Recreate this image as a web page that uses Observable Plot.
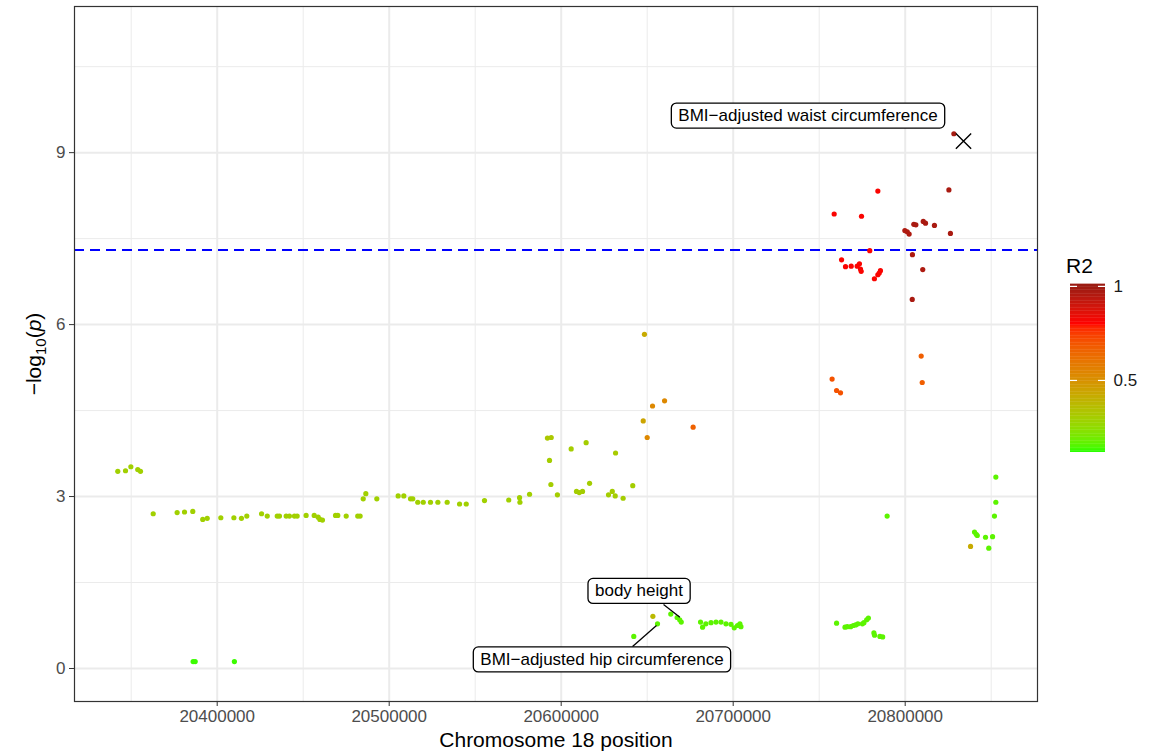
<!DOCTYPE html>
<html><head><meta charset="utf-8">
<script src="https://cdn.jsdelivr.net/npm/d3@7"></script>
<script src="https://cdn.jsdelivr.net/npm/@observablehq/plot@0.6"></script>
<style>
body{margin:0;background:#fff;}
#wrap{position:relative;width:1160px;height:754px;font-family:"Liberation Sans",Arial,sans-serif;}
#leg{position:absolute;left:1040px;top:250px;}
#legtitle{position:absolute;left:1066px;top:254px;font-size:21px;color:#000;}
</style></head><body><div id="wrap"><div id="legtitle">R2</div><div id="leg"></div></div>
<script>
// ---- data ----
const positions = [
20342200,20346700,20349800,20353800,20355400,20362800,20376700,20381000,20385800,20391600,
20394200,20402100,20409700,20414100,20417200,20425800,20429100,20434900,20436200,20440100,
20442000,20444900,20446500,20451700,20456400,20458700,20459700,20461200,20468800,20470100,
20475000,20481700,20483100,20484900,20486400,20492800,20505200,20508500,20512400,20513700,
20516600,20519800,20524000,20528300,20533700,20540900,20544800,20555400,20569500,20575800,
20576000,20581600,20593200,20594000,20597800,20605800,20614500,20608900,20610500,20612400,
20616500,20631600,20627500,20629700,20631400,20636000,20641600,20592000,20594200,
20648400,20653100,20660100,20647700,20650000,20676700,
20386000,20387200,20410000,20653300,20656000,20642200,20663700,20667400,20668900,20669800,
20681000,20682200,20684100,20687100,20690000,20692900,20695800,20698700,20700600,20702500,20703900,20704500,
20760100,20765000,20766300,20768300,20769800,20771200,20772500,20775100,20776000,20777600,20778600,
20781800,20782200,20785300,20786900,
20789500,20852700,20852700,20851900,20840300,20841900,20841300,20846700,20850800,20848600,20838000,
20757500,20760100,20762400,20809300,20809900,
20784100,20758700,20774600,20779400,20763000,20765300,20768600,20772100,20773400,20774000,20774400,
20782100,20784100,20785600,20784900,
20828300,20825400,20799800,20801200,20802300,20805000,20806200,20810500,20811800,20817000,20826300,
20804200,20810200,20804100
];
const logP = [
3.44,3.45,3.52,3.47,3.44,2.70,2.72,2.73,2.74,2.60,
2.62,2.63,2.63,2.62,2.66,2.70,2.66,2.66,2.66,2.66,
2.66,2.66,2.66,2.67,2.67,2.64,2.60,2.59,2.67,2.67,
2.66,2.66,2.66,2.96,3.05,2.96,3.01,3.01,2.96,2.96,
2.90,2.90,2.90,2.90,2.90,2.87,2.87,2.93,2.94,2.98,
2.90,3.04,3.63,3.21,3.03,3.83,3.94,3.09,3.07,3.09,
3.23,3.76,3.03,3.09,3.01,2.97,3.19,4.02,4.03,
5.83,4.58,4.67,4.32,4.03,4.21,
0.12,0.12,0.12,0.91,0.78,0.56,0.95,0.89,0.85,0.81,
0.81,0.72,0.78,0.80,0.81,0.81,0.78,0.77,0.71,0.75,0.78,0.73,
0.79,0.72,0.73,0.73,0.75,0.76,0.78,0.78,0.80,0.85,0.88,
0.62,0.58,0.56,0.55,
2.66,3.34,2.90,2.66,2.38,2.32,2.34,2.29,2.30,2.10,2.13,
5.05,4.85,4.81,5.45,4.99,
8.33,7.93,7.89,7.29,7.13,7.01,7.02,7.02,7.06,6.97,6.93,
6.80,6.87,6.94,6.90,
9.33,8.35,7.64,7.62,7.58,7.75,7.74,7.80,7.77,7.73,7.59,
7.22,6.96,6.44
];
const r2 = [
0.29,0.29,0.29,0.29,0.29,0.29,0.29,0.29,0.29,0.29,
0.29,0.29,0.29,0.29,0.29,0.29,0.29,0.29,0.29,0.29,
0.29,0.29,0.29,0.29,0.29,0.29,0.29,0.29,0.29,0.29,
0.29,0.29,0.29,0.29,0.29,0.29,0.29,0.29,0.29,0.29,
0.29,0.29,0.29,0.29,0.29,0.29,0.29,0.29,0.29,0.29,
0.29,0.29,0.30,0.30,0.30,0.30,0.30,0.30,0.30,0.30,
0.30,0.31,0.30,0.30,0.30,0.30,0.30,0.32,0.32,
0.42,0.53,0.53,0.44,0.53,0.66,
0.13,0.13,0.13,0.37,0.16,0.16,0.16,0.16,0.16,0.16,
0.16,0.16,0.16,0.16,0.16,0.16,0.16,0.16,0.16,0.16,0.16,0.16,
0.16,0.16,0.16,0.16,0.16,0.16,0.16,0.16,0.16,0.16,0.16,
0.16,0.16,0.16,0.16,
0.16,0.16,0.16,0.16,0.16,0.16,0.16,0.16,0.16,0.16,0.42,
0.70,0.70,0.70,0.67,0.67,
0.81,0.81,0.81,0.81,0.81,0.81,0.81,0.81,0.81,0.81,0.81,
0.81,0.81,0.81,0.81,
0.98,0.97,0.96,0.96,0.96,0.97,0.97,0.97,0.97,0.97,0.97,
0.96,0.96,0.97
];
const leadPos = [20833900];
const leadLogP = [9.20];
const threshold = [7.3];

const labelText = ["BMI\u2212adjusted waist circumference", "body height", "BMI\u2212adjusted hip circumference"];
const labelPos = [20743500, 20645200, 20623700];
const labelLogP = [9.646, 1.352, 0.157];
const segPos1 = [20669000, 20655400];
const segLogP1 = [0.895, 0.75];
const segPos2 = [20659500, 20641500];
const segLogP2 = [1.116, 0.384];

const xMajor = [20400000, 20500000, 20600000, 20700000, 20800000];
const xMinor = [20350000, 20450000, 20550000, 20650000, 20750000, 20850000];
const yMajor = [0, 3, 6, 9];
const yMinor = [1.5, 4.5, 7.5, 10.5];
const legendTicks = [0.5, 1];

const colorStops = [0.117, 0.5, 0.8, 1];
const colorRange = ["#22ff00", "#d89000", "#ff0000", "#9b1b12"];

// ---- build ----
const points = positions.map((p, i) => ({pos: p, logp: logP[i], r2: r2[i]}));
const labels = labelText.map((t, i) => ({text: t, pos: labelPos[i], logp: labelLogP[i]}));
const segs = segPos1.map((p, i) => ({x1: p, y1: segLogP1[i], x2: segPos2[i], y2: segLogP2[i]}));
const colorScale = {type: "linear", domain: colorStops, range: colorRange, interpolate: "lab"};
const FONT = "'Liberation Sans', Arial, sans-serif";

const chart = Plot.plot({
  width: 1160, height: 754,
  marginLeft: 74, marginRight: 123, marginTop: 6, marginBottom: 53,
  style: {fontFamily: FONT, background: "white"},
  x: {domain: [20317035, 20876919]},
  y: {domain: [-0.576, 11.55]},
  color: colorScale,
  marks: [
    Plot.ruleX(xMinor, {stroke: "#ebebeb", strokeWidth: 1}),
    Plot.ruleY(yMinor, {stroke: "#ebebeb", strokeWidth: 1}),
    Plot.ruleX(xMajor, {stroke: "#ebebeb", strokeWidth: 2}),
    Plot.ruleY(yMajor, {stroke: "#ebebeb", strokeWidth: 2}),
    Plot.ruleY(threshold, {stroke: "#0000ff", strokeWidth: 2, strokeDasharray: "10,6"}),
    Plot.dot(points, {x: "pos", y: "logp", fill: "r2", r: 2.6, stroke: null}),
    Plot.dot(leadPos.map((p, i) => ({pos: p, logp: leadLogP[i]})), {x: "pos", y: "logp", symbol: "times", r: 7, stroke: "black", strokeWidth: 1.4}),
    Plot.link(segs, {x1: "x1", y1: "y1", x2: "x2", y2: "y2", stroke: "black", strokeWidth: 1.3}),
    Plot.text(labels, {x: "pos", y: "logp", text: "text", fontSize: 17, fill: "black", textAnchor: "middle", lineAnchor: "middle"}),
    Plot.frame({stroke: "#333333", strokeWidth: 1.2}),
    Plot.axisX(xMajor, {tickFormat: d => String(d), tickSize: 5, tickPadding: 3, fontSize: 17, fill: "#4d4d4d", stroke: "#333333", label: null}),
    Plot.axisY(yMajor, {tickFormat: d => String(d), tickSize: 5, tickPadding: 4, fontSize: 17, fill: "#4d4d4d", stroke: "#333333", label: null}),
    Plot.text(["Chromosome 18 position"], {frameAnchor: "bottom", dy: 45, fontSize: 21, fill: "black"})
  ]
});
document.getElementById("wrap").prepend(chart);

// rounded label boxes
const svg = d3.select(chart.tagName.toLowerCase() === "svg" ? chart : chart.querySelector("svg"));
svg.selectAll("text").each(function() {
  if (labelText.includes(this.textContent)) {
    const b = this.getBBox();
    const r = document.createElementNS("http://www.w3.org/2000/svg", "rect");
    r.setAttribute("x", b.x - 7);
    r.setAttribute("y", b.y - 3);
    r.setAttribute("width", b.width + 14);
    r.setAttribute("height", b.height + 6);
    r.setAttribute("rx", 5);
    r.setAttribute("fill", "white");
    r.setAttribute("stroke", "black");
    r.setAttribute("stroke-width", 1.3);
    if (this.getAttribute("transform")) r.setAttribute("transform", this.getAttribute("transform"));
    this.parentNode.insertBefore(r, this);
  }
});
// y axis title with subscript and italic p
const yt = svg.append("text")
  .attr("transform", "translate(41,354) rotate(-90)")
  .attr("text-anchor", "middle")
  .attr("fill", "black")
  .style("font-size", "21px").style("font-family", FONT);
yt.append("tspan").text("\u2212log");
yt.append("tspan").attr("dy", 5).style("font-size", "15px").text("10");
yt.append("tspan").attr("dy", -5).text("(");
yt.append("tspan").style("font-style", "italic").text("p");
yt.append("tspan").text(")");

// legend colour bar
const slices = d3.range(120).map(i => {
  const a = colorStops[0] + (1.01 - colorStops[0]) * i / 120;
  const b = colorStops[0] + (1.01 - colorStops[0]) * (i + 1) / 120;
  return {y1: a, y2: b + 0.002, v: Math.min(1, (a + b) / 2)};
});
const legend = Plot.plot({
  width: 110, height: 215,
  marginLeft: 30, marginRight: 45, marginTop: 34, marginBottom: 13,
  style: {fontFamily: FONT, background: "transparent"},
  x: {domain: [0, 1], axis: null},
  y: {domain: [colorStops[0], 1.01]},
  color: colorScale,
  marks: [
    Plot.rect(slices, {x1: 0, x2: 1, y1: "y1", y2: "y2", fill: "v"}),
    Plot.ruleY(legendTicks, {x1: 0, x2: 0.2, stroke: "white", strokeWidth: 1.2}),
    Plot.ruleY(legendTicks, {x1: 0.8, x2: 1, stroke: "white", strokeWidth: 1.2}),
    Plot.axisY(legendTicks, {anchor: "right", tickSize: 0, tickPadding: 8, fontSize: 17, fill: "#1a1a1a", label: null, tickFormat: d => String(d)})
  ]
});
document.getElementById("leg").append(legend);
</script>
</body></html>
